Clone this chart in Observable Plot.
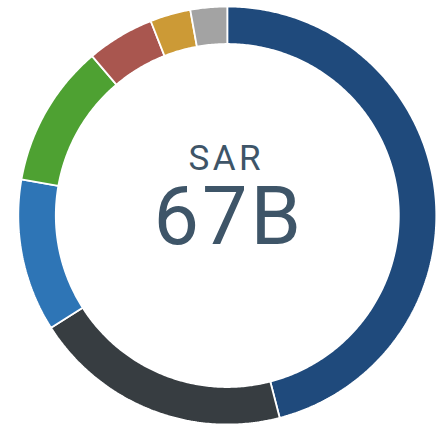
<!DOCTYPE html>
<html>
<head>
<meta charset="utf-8">
<script src="https://cdn.jsdelivr.net/npm/d3@7"></script>
<script src="https://cdn.jsdelivr.net/npm/@observablehq/plot@0.6"></script>
<style>
  html, body { margin: 0; padding: 0; background: #ffffff; }
  #chart svg { display: block; }
</style>
</head>
<body>
<div id="chart"></div>
<script>
// Segments, clockwise from 12 o'clock (values in billions, total ≈ 67)
const categories = ["A", "B", "C", "D", "E", "F", "G"];
const values = [30.8, 13.4, 7.9, 7.4, 3.5, 2.1, 1.9];
const colors = ["#1f4a7c", "#373d41", "#2e75b6", "#4ea132", "#a9564f", "#cc9a36", "#a3a3a3"];
const currencyLabel = "SAR";
const totalLabel = "67B";

const W = 446, H = 427;
const cx = 226.8, cy = 215;      // pixel centre of donut
const R = 209, r = 171.5;         // outer / inner radius in px (1 unit = 1 px)

// Build polygon outline points of each ring slice from the pie layout
const pie = d3.pie().sort(null).value(d => d.value)(categories.map((c, i) => ({cat: c, value: values[i]})));
const pts = [];
for (const s of pie) {
  const n = Math.max(4, Math.ceil((s.endAngle - s.startAngle) / 0.01));
  for (let k = 0; k <= n; k++) {
    const a = s.startAngle + (s.endAngle - s.startAngle) * k / n;
    pts.push({cat: s.data.cat, x: R * Math.sin(a), y: R * Math.cos(a)});
  }
  for (let k = n; k >= 0; k--) {
    const a = s.startAngle + (s.endAngle - s.startAngle) * k / n;
    pts.push({cat: s.data.cat, x: r * Math.sin(a), y: r * Math.cos(a)});
  }
  const a0 = s.startAngle;
  pts.push({cat: s.data.cat, x: R * Math.sin(a0), y: R * Math.cos(a0)});
}

const labels = [
  {x: 0, y: cy - 169, text: currencyLabel},
  {x: 0, y: cy - 243, text: totalLabel}
];

const chart = Plot.plot({
  width: W,
  height: H,
  margin: 0,
  x: {domain: [-cx, W - cx], axis: null},
  y: {domain: [cy - H, cy], axis: null},
  color: {domain: categories, range: colors},
  style: {background: "#ffffff"},
  marks: [
    Plot.line(pts, {x: "x", y: "y", z: "cat", fill: "cat", stroke: "#ffffff", strokeWidth: 1.8, strokeLinejoin: "miter", curve: "linear"}),
    Plot.text(labels.slice(0, 1), {x: "x", y: "y", text: "text", fontSize: 35, dx: -1, fill: "#3e5568", fontFamily: "Roboto", lineAnchor: "bottom", textAnchor: "middle", className: "lbl-small"}),
    Plot.text(labels.slice(1), {x: "x", y: "y", text: "text", fontSize: 81, dx: 1.5, fill: "#3e5568", fontFamily: "Roboto", lineAnchor: "bottom", textAnchor: "middle", className: "lbl-big"})
  ]
});
d3.select(chart).selectAll(".lbl-small text").attr("letter-spacing", "3.5px");
d3.select(chart).selectAll(".lbl-big text").attr("letter-spacing", "3px");
document.getElementById("chart").appendChild(chart);
</script>
</body>
</html>
